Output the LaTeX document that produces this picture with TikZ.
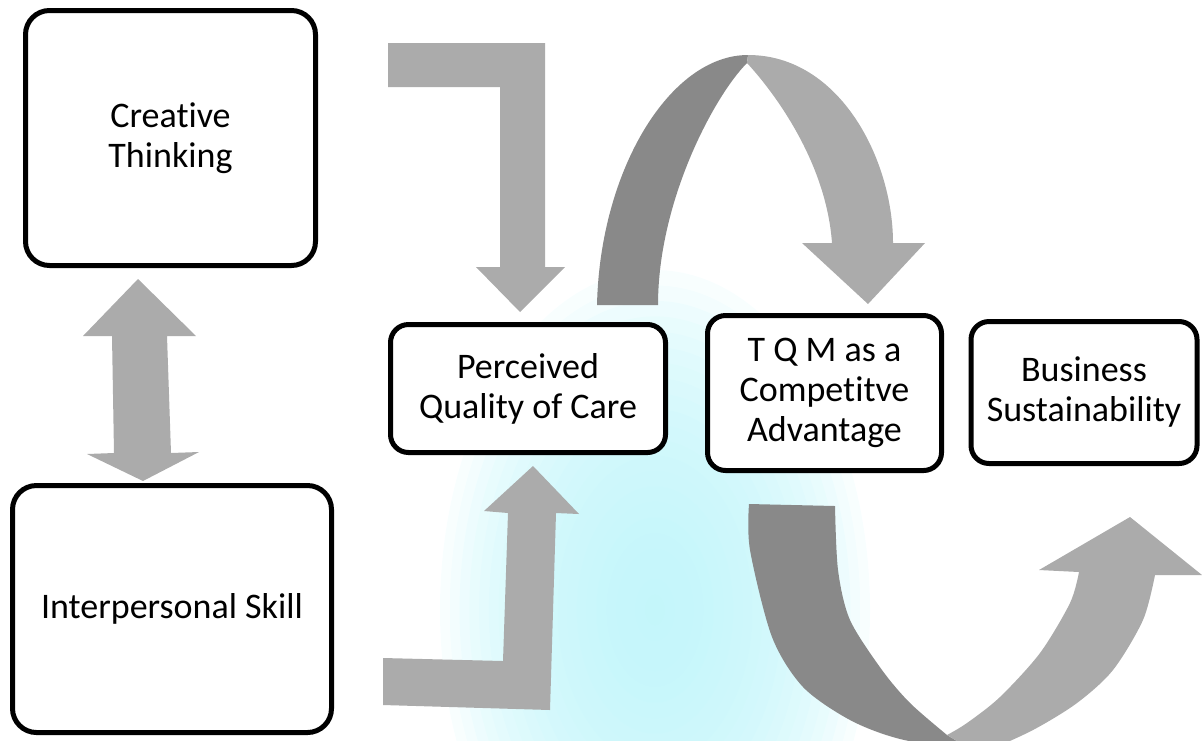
\documentclass[tikz,border=0pt]{standalone}
\usepackage{fontspec}
\setmainfont{Carlito}[Ligatures=NoCommon]
\definecolor{arrowlight}{RGB}{171,171,171}
\definecolor{arrowdark}{RGB}{137,137,137}
\definecolor{glow}{RGB}{190,245,250}
\begin{document}
\begin{tikzpicture}[x=0.5pt,y=-0.5pt,
  box/.style={draw=black, line width=2.5pt, fill=white, align=center,
    inner sep=0pt, font=\fontsize{18}{20}\selectfont},
  bigbox/.style={box, rounded corners=12pt},
  smallbox/.style={box, rounded corners=9pt},
  lightarrow/.style={fill=arrowlight},
  darkarrow/.style={fill=arrowdark},
  glowring/.style={fill=glow, fill opacity=0.1}]
\useasboundingbox (0,0) rectangle (1202,740);
\begin{scope}
\clip (0,0) rectangle (1202,740);

% soft cyan glow behind the centre, built from stacked translucent ellipses
\foreach \k in {1,...,22} {
  \fill[glowring] (655,610) ellipse [x radius={215*\k/22}, y radius={340*\k/22}];
}

% two-way arrow between the left boxes
\fill[lightarrow] (138,279) -- (196,336) -- (167,336) -- (171,453) -- (199,452)
  -- (143,481) -- (87,454) -- (114,453) -- (112,336) -- (83,336) -- cycle;

% bent arrow from the top
\fill[lightarrow] (388,43) -- (545,43) -- (545,267) -- (565,267) -- (520,312)
  -- (476,267) -- (500,267) -- (500,87) -- (388,87) -- cycle;

% bent arrow from the bottom
\fill[lightarrow] (383,658) -- (503,661) -- (508,513) -- (484,511) -- (533,466)
  -- (579,514) -- (556,513) -- (550,710) -- (383,705) -- cycle;

% curved arrow over the top: back face and front face
\fill[darkarrow] (597,305) .. controls (600,170) and (670,55) .. (748,55)
  -- (747,63) .. controls (715,95) and (658,200) .. (658,305) -- cycle;
\fill[lightarrow] (748,55) .. controls (840,55) and (893,160) .. (893,243)
  -- (925,243) -- (868,304) -- (802,243) -- (832,243)
  .. controls (826,160) and (772,90) .. (747,63) -- cycle;

% curved arrow underneath: back face and front face
\fill[darkarrow] (749,504) -- (835,506)
  -- plot[smooth] coordinates {(835,506) (838,570) (850,620) (882,670) (910,703) (947,735)}
  -- (975,752)
  -- plot[smooth] coordinates {(975,752) (900,739) (850,720) (803,687) (772,637) (750,550) (749,504)}
  -- cycle;
\fill[lightarrow] (947,735)
  -- plot[smooth] coordinates {(947,735) (967,723) (1000,697) (1040,653) (1070,603) (1079,572)}
  -- (1039,570) -- (1130,517) -- (1202,575) -- (1155,575)
  -- plot[smooth] coordinates {(1155,575) (1143,620) (1113,670) (1077,703) (1033,730) (985,752)}
  -- (975,752) -- cycle;

% boxes
\node[bigbox, minimum width=145pt, minimum height=127.5pt] (creative) at (170.5,138)
  {Creative\\Thinking};
\node[bigbox, minimum width=159.5pt, minimum height=123.5pt] (interpersonal) at (172,609)
  {\raisebox{-3.5pt}{Interpersonal Skill}};
\node[smallbox, minimum width=137.5pt, minimum height=64pt] (perceived) at (528,388.5)
  {Perceived\\Quality of Care};
\node[smallbox, minimum width=117pt, minimum height=77.5pt] (tqm) at (824.5,393)
  {T Q M as a\\Competitve\\Advantage};
\node[smallbox, minimum width=113pt, minimum height=71pt] (business) at (1084,392.5)
  {Business\\Sustainability};
\end{scope}
\end{tikzpicture}
\end{document}
